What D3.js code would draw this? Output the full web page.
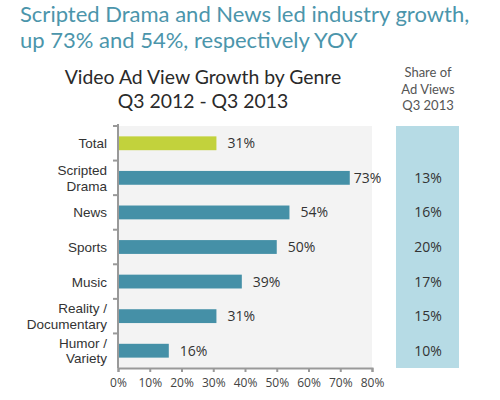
<!DOCTYPE html>
<html lang="en">
<head>
    <meta charset="UTF-8">
    <title>Video Ad View Growth by Genre</title>
    <script src="https://d3js.org/d3.v7.min.js"></script>
    <style>
        body {
            margin: 0;
            background: #fff;
        }

        .headline {
            font-family: Lato, sans-serif;
            font-size: 22px;
            fill: #4b95ab;
        }

        .chart-title {
            font-family: Lato, sans-serif;
            font-size: 19.4px;
            fill: #2a2a2a;
        }

        .share-head {
            font-family: Lato, sans-serif;
            font-size: 13px;
            fill: #555;
        }

        .cat-label, .val-label, .share-val {
            font-family: "Open Sans", sans-serif;
            font-size: 14px;
            fill: #333;
        }

        .cat-label {
            font-family: "Liberation Sans", Arial, sans-serif;
            font-size: 13.5px;
        }

        .x-axis text {
            font-family: "Open Sans", sans-serif;
            font-size: 12px;
            fill: #444;
        }

        .axis-line {
            stroke: #999;
            stroke-width: 2px;
        }
    </style>
</head>
<body>
    <div id="chart"></div>

    <script>
        const categories = ["Total", "Scripted\nDrama", "News", "Sports", "Music", "Reality /\nDocumentary", "Humor /\nVariety"];
        const growth = [31, 73, 54, 50, 39, 31, 16];
        const share = ["", "13%", "16%", "20%", "17%", "15%", "10%"];
        const xTicks = [0, 10, 20, 30, 40, 50, 60, 70, 80];

        const width = 500;
        const height = 400;
        const plot = {left: 118, right: 372, top: 126, bottom: 368};

        const svg = d3.select("#chart")
            .append("svg")
            .attr("width", width)
            .attr("height", height);

        // headline
        const headline = svg.append("text")
            .attr("class", "headline")
            .attr("x", 20);
        headline.append("tspan").attr("x", 20).attr("y", 22)
            .text("Scripted Drama and News led industry growth,");
        headline.append("tspan").attr("x", 20).attr("y", 48)
            .text("up 73% and 54%, respectively YOY");

        // chart title
        svg.append("text")
            .attr("class", "chart-title")
            .attr("x", 203).attr("y", 84)
            .attr("text-anchor", "middle")
            .text("Video Ad View Growth by Genre");
        svg.append("text")
            .attr("class", "chart-title")
            .attr("x", 203).attr("y", 108)
            .attr("text-anchor", "middle")
            .text("Q3 2012 - Q3 2013");

        // share column header
        ["Share of", "Ad Views", "Q3 2013"].forEach((t, i) => {
            svg.append("text")
                .attr("class", "share-head")
                .attr("x", 428)
                .attr("y", 77 + i * 16.5)
                .attr("text-anchor", "middle")
                .text(t);
        });

        const x = d3.scaleLinear()
            .domain([0, 80])
            .range([plot.left, plot.right]);

        const y = d3.scaleBand()
            .domain(categories)
            .range([plot.top, plot.bottom]);

        const barH = y.bandwidth() * 0.4;

        // plot background
        svg.append("rect")
            .attr("x", plot.left)
            .attr("y", plot.top)
            .attr("width", plot.right - plot.left)
            .attr("height", plot.bottom - plot.top)
            .attr("fill", "#f3f3f3");

        // share column
        svg.append("rect")
            .attr("x", 396)
            .attr("y", plot.top)
            .attr("width", 63)
            .attr("height", plot.bottom - plot.top)
            .attr("fill", "#b6dbe5");

        // bars
        svg.selectAll(".bar")
            .data(categories)
            .enter()
            .append("rect")
            .attr("class", "bar")
            .attr("x", x(0))
            .attr("y", d => y(d) + (y.bandwidth() - barH) / 2)
            .attr("width", (d, i) => x(growth[i]) - x(0))
            .attr("height", barH)
            .attr("fill", (d, i) => i === 0 ? "#c2d23c" : "#4590a7");

        // value labels
        svg.selectAll(".val-label")
            .data(categories)
            .enter()
            .append("text")
            .attr("class", "val-label")
            .attr("x", (d, i) => x(growth[i]) + (growth[i] > 70 ? 4 : 11))
            .attr("y", d => y(d) + y.bandwidth() / 2 + 5)
            .text((d, i) => growth[i] + "%");

        // share values
        svg.selectAll(".share-val")
            .data(categories)
            .enter()
            .append("text")
            .attr("class", "share-val")
            .attr("x", 428)
            .attr("y", d => y(d) + y.bandwidth() / 2 + 5)
            .attr("text-anchor", "middle")
            .text((d, i) => share[i]);

        // category labels
        categories.forEach(c => {
            const lines = c.split("\n");
            const t = svg.append("text")
                .attr("class", "cat-label")
                .attr("text-anchor", "end");
            const cy = y(c) + y.bandwidth() / 2 + 5;
            lines.forEach((l, j) => {
                t.append("tspan")
                    .attr("x", 107)
                    .attr("y", cy + (j - (lines.length - 1) / 2) * 15.3)
                    .text(l);
            });
        });

        // y axis line + ticks at band edges
        svg.append("line")
            .attr("class", "axis-line")
            .attr("x1", plot.left).attr("x2", plot.left)
            .attr("y1", plot.top - 2).attr("y2", plot.bottom);
        svg.selectAll(".ytick")
            .data(categories)
            .enter()
            .append("line")
            .attr("class", "axis-line")
            .attr("x1", plot.left - 5).attr("x2", plot.left)
            .attr("y1", d => y(d)).attr("y2", d => y(d));

        // x axis
        const xAxis = svg.append("g")
            .attr("class", "x-axis")
            .attr("transform", `translate(0,${plot.bottom})`)
            .call(d3.axisBottom(x)
                .tickValues(xTicks)
                .tickSize(4)
                .tickPadding(6)
                .tickFormat(d => d + "%"));
        xAxis.select(".domain").attr("stroke", "#999").attr("stroke-width", 2);
        xAxis.selectAll(".tick line").attr("stroke", "#999").attr("stroke-width", 2);
    </script>
</body>
</html>
